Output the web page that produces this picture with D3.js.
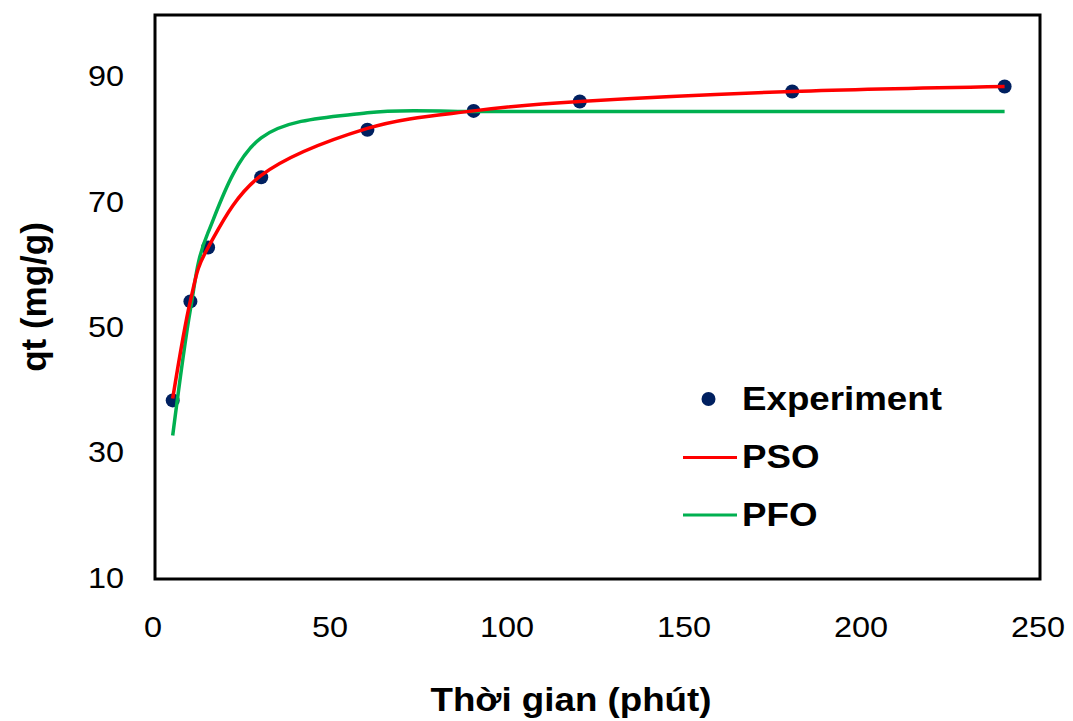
<!DOCTYPE html>
<html>
<head>
<meta charset="utf-8">
<script src="https://cdn.jsdelivr.net/npm/d3@7"></script>
<style>
  html, body { margin: 0; padding: 0; background: #fff; }
  svg { display: block; font-family: "Liberation Sans", Arial, sans-serif; }
</style>
</head>
<body>
<svg id="chart" width="1073" height="721"></svg>
<script>
// Contact time (minutes)
const times = [5, 10, 15, 30, 60, 90, 120, 180, 240];
// Measured adsorption capacity qt (mg/g)
const experiment = [38.5, 54.3, 62.9, 74.1, 81.7, 84.7, 86.2, 87.8, 88.6];
// Pseudo-second-order model values at the same times
const pso = [38.8, 54.4, 62.9, 74.4, 81.9, 84.7, 86.2, 87.8, 88.6];
// Pseudo-first-order model values at the same times
const pfo = [32.9, 53.0, 65.3, 80.4, 84.4, 84.6, 84.6, 84.6, 84.6];

const xTicks = [0, 50, 100, 150, 200, 250];
const yTicks = [10, 30, 50, 70, 90];

const svg = d3.select("#chart");
const plotLeft = 155, plotRight = 1040, plotTop = 15, plotBottom = 579;
const stretch = 1.08;

const x = d3.scaleLinear().domain([0, 250]).range([plotLeft, plotRight]);
const y = d3.scaleLinear().domain([10, 100]).range([plotBottom, plotTop]);

// Tick labels (no tick marks, just values)
svg.append("g").selectAll("text").data(yTicks).join("text")
  .attr("transform", d => `translate(124,${y(d) + 8.5}) scale(${stretch},1)`)
  .attr("text-anchor", "end")
  .attr("font-size", 30)
  .attr("fill", "#000")
  .text(d => d);

svg.append("g").selectAll("text").data(xTicks).join("text")
  .attr("transform", d => `translate(${x(d) - 2},${637}) scale(${stretch},1)`)
  .attr("text-anchor", "middle")
  .attr("font-size", 30)
  .attr("fill", "#000")
  .text(d => d);

// Axis titles
svg.append("text")
  .attr("transform", `translate(571,711) scale(${stretch},1)`)
  .attr("text-anchor", "middle")
  .attr("font-size", 34)
  .attr("font-weight", "bold")
  .text("Thời gian (phút)");

svg.append("text")
  .attr("transform", "translate(46,297) rotate(-90)")
  .attr("text-anchor", "middle")
  .attr("font-size", 35)
  .attr("font-weight", "bold")
  .text("qt (mg/g)");

// Plot frame
svg.append("rect")
  .attr("x", plotLeft).attr("y", plotTop)
  .attr("width", plotRight - plotLeft).attr("height", plotBottom - plotTop)
  .attr("fill", "none").attr("stroke", "#000").attr("stroke-width", 3);

const plot = svg.append("g");

// Experimental points
plot.selectAll("circle").data(times).join("circle")
  .attr("cx", (d) => x(d))
  .attr("cy", (d, i) => y(experiment[i]))
  .attr("r", 7)
  .attr("fill", "#002060");

const line = d3.line()
  .x(d => x(d[0]))
  .y(d => y(d[1]))
  .curve(d3.curveCardinal.tension(0));

plot.append("path")
  .datum(times.map((t, i) => [t, pfo[i]]))
  .attr("d", line)
  .attr("fill", "none").attr("stroke", "#00B050").attr("stroke-width", 3.5);

plot.append("path")
  .datum(times.map((t, i) => [t, pso[i]]))
  .attr("d", line)
  .attr("fill", "none").attr("stroke", "#FF0000").attr("stroke-width", 3.5);

// Legend
const legend = svg.append("g");
legend.append("circle").attr("cx", 708.5).attr("cy", 399).attr("r", 7).attr("fill", "#002060");
legend.append("line").attr("x1", 683).attr("x2", 737).attr("y1", 457.5).attr("y2", 457.5)
  .attr("stroke", "#FF0000").attr("stroke-width", 3);
legend.append("line").attr("x1", 683).attr("x2", 737).attr("y1", 515).attr("y2", 515)
  .attr("stroke", "#00B050").attr("stroke-width", 3);

const legendItems = [["Experiment", 410], ["PSO", 468], ["PFO", 526]];
legend.selectAll("text").data(legendItems).join("text")
  .attr("transform", d => `translate(742,${d[1]}) scale(${stretch},1)`)
  .attr("font-size", 34)
  .attr("font-weight", "bold")
  .text(d => d[0]);
</script>
</body>
</html>
